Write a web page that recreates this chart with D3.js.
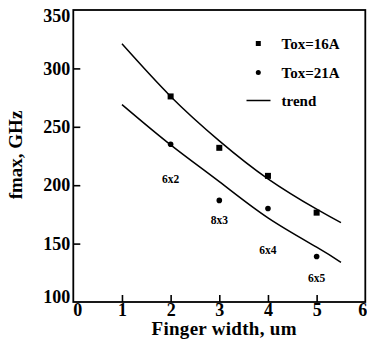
<!DOCTYPE html>
<html>
<head>
<meta charset="utf-8">
<script src="https://cdn.jsdelivr.net/npm/d3@7/dist/d3.min.js"></script>
<style>
  html, body { margin: 0; padding: 0; background: #fff; }
  svg { display: block; }
  text { font-family: "Liberation Serif", "Times New Roman", serif; font-weight: bold; fill: #000; }
</style>
</head>
<body>
<svg id="chart" width="367" height="348"></svg>
<script>
// Finger width (um) of each measured device
const fingerWidth = [2, 3, 4, 5];
// Measured fmax (GHz)
const fmaxTox16 = [276, 232, 208, 176.5];
const fmaxTox21 = [235, 187, 180, 139];
// Trend curves
const trendX = [1, 2, 3, 4, 5, 5.5];
const trendTox16 = [321, 276, 238, 205.5, 179.5, 168];
const trendTox21 = [269, 234.5, 203, 172, 147, 134];
// Device geometry labels (fingers x width) and their anchor values
const deviceLabels = ["6x2", "8x3", "6x4", "6x5"];
const deviceLabelX = [2, 3, 4, 5];
const deviceLabelY = [205.5, 170.5, 144.5, 120.5];
// Axis ticks
const xTicks = [0, 1, 2, 3, 4, 5, 6];
const yTicks = [100, 150, 200, 250, 300, 350];
const legendLabels = ["Tox=16A", "Tox=21A", "trend"];

const svg = d3.select("#chart");
const plotLeft = 73.3, plotRight = 365.3, plotTop = 10, plotBottom = 302;

const x = d3.scaleLinear().domain([0, 6]).range([plotLeft, plotRight]);
const y = d3.scaleLinear().domain([100, 350]).range([plotBottom, plotTop]);

// Frame
svg.append("rect")
  .attr("x", plotLeft).attr("y", plotTop)
  .attr("width", plotRight - plotLeft).attr("height", plotBottom - plotTop)
  .attr("fill", "none").attr("stroke", "#000").attr("stroke-width", 1.8);

// Y axis: ticks point inward, none at the frame corners
const yAxis = svg.append("g")
  .attr("transform", `translate(${plotLeft},0)`)
  .call(d3.axisLeft(y).tickValues(yTicks).tickFormat(d3.format("d"))
    .tickSizeInner(-7).tickSizeOuter(0).tickPadding(3));
yAxis.select(".domain").remove();
yAxis.selectAll(".tick line").attr("stroke-width", 1.6)
  .attr("display", d => (d === 100 || d === 350) ? "none" : null);
yAxis.selectAll(".tick text")
  .style("font-size", "18px")
  .attr("dy", d => d === 350 ? "0.65em" : d === 100 ? "0.05em" : "0.32em");

// X axis
const xAxis = svg.append("g")
  .attr("transform", `translate(0,${plotBottom})`)
  .call(d3.axisBottom(x).tickValues(xTicks).tickFormat(d3.format("d"))
    .tickSizeInner(-7).tickSizeOuter(0).tickPadding(1));
xAxis.select(".domain").remove();
xAxis.selectAll(".tick line").attr("stroke-width", 1.6)
  .attr("display", d => (d === 0 || d === 6) ? "none" : null);
xAxis.selectAll(".tick text")
  .style("font-size", "18px")
  .attr("text-anchor", d => d === 6 ? "end" : "middle")
  .attr("dx", d => d === 0 ? 4 : d === 6 ? 1.5 : 0);

// Axis titles
svg.append("text")
  .attr("x", 224).attr("y", 335)
  .attr("text-anchor", "middle")
  .style("font-size", "19px")
  .attr("textLength", 145)
  .text("Finger width, um");

svg.append("text")
  .attr("transform", "translate(22,155) rotate(-90)")
  .attr("text-anchor", "middle")
  .style("font-size", "19px")
  .text("fmax, GHz");

// Trend curves
const line = d3.line()
  .x(d => x(d[0]))
  .y(d => y(d[1]))
  .curve(d3.curveNatural);

[trendTox16, trendTox21].forEach(vals => {
  svg.append("path")
    .datum(trendX.map((t, i) => [t, vals[i]]))
    .attr("d", line)
    .attr("fill", "none")
    .attr("stroke", "#000")
    .attr("stroke-width", 1.5);
});

// Measured points
const sq = 6;
svg.append("g").selectAll("rect")
  .data(fingerWidth.map((w, i) => [w, fmaxTox16[i]]))
  .join("rect")
  .attr("x", d => x(d[0]) - sq / 2)
  .attr("y", d => y(d[1]) - sq / 2)
  .attr("width", sq).attr("height", sq)
  .attr("fill", "#000");

svg.append("g").selectAll("circle")
  .data(fingerWidth.map((w, i) => [w, fmaxTox21[i]]))
  .join("circle")
  .attr("cx", d => x(d[0]))
  .attr("cy", d => y(d[1]))
  .attr("r", 2.8)
  .attr("fill", "#000");

// Device geometry labels
svg.append("g").selectAll("text")
  .data(deviceLabels)
  .join("text")
  .attr("x", (d, i) => x(deviceLabelX[i]))
  .attr("y", (d, i) => y(deviceLabelY[i]))
  .attr("dy", "0.35em")
  .attr("text-anchor", "middle")
  .style("font-size", "11.5px")
  .text(d => d);

// Legend
const legend = svg.append("g");
const legendRows = [43.5, 72.5, 100.5];
legend.append("rect")
  .attr("x", 258.3 - 2.5).attr("y", legendRows[0] - 2.5)
  .attr("width", 5).attr("height", 5).attr("fill", "#000");
legend.append("circle")
  .attr("cx", 258.3).attr("cy", legendRows[1]).attr("r", 2.5).attr("fill", "#000");
legend.append("line")
  .attr("x1", 246.5).attr("x2", 270.5)
  .attr("y1", legendRows[2]).attr("y2", legendRows[2])
  .attr("stroke", "#000").attr("stroke-width", 1.5);
legend.selectAll("text")
  .data(legendLabels)
  .join("text")
  .attr("x", 281.5)
  .attr("y", (d, i) => legendRows[i])
  .attr("dy", "0.35em")
  .style("font-size", "15px")
  .text(d => d);
</script>
</body>
</html>
